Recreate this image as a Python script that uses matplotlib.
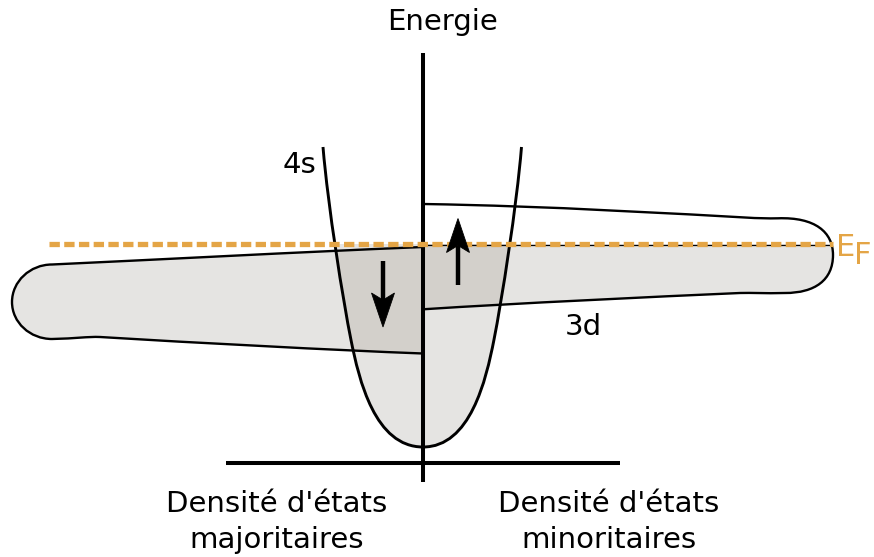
import matplotlib
matplotlib.use('Agg')
import matplotlib.pyplot as plt
from matplotlib.path import Path
from matplotlib.patches import PathPatch, Polygon

# schematic coordinates are in image pixels (x to the right, y downwards)
axisX = 423
axisTop = 53
axisBottom = 482
baseY = 463
baseLeft = 226
baseRight = 620
efLevel = 243.5
efStart = 49
efEnd = 833

# 4s band: half curve from the bottom up, as bezier control points (offset from axis, y)
fourSOffsets = [0, 48, 64, 72, 80, 95, 100]
fourSLevels = [447, 447, 380, 340, 300, 207, 147]
fourSScaleLeft = 1.0
fourSScaleRight = 0.985

# 3d bands: bezier control points (start point, then groups of three)
majorityBandX = [423, 300, 150, 52, 30, 12, 12, 12, 30, 52, 75, 88, 100, 200, 330, 423]
majorityBandY = [247, 252, 260, 264.5, 264.5, 281.5, 302, 322.5, 339, 339, 338.5, 336.5, 337, 343, 350, 353.5]
minorityBandX = [423, 550, 680, 745, 758, 768, 778, 815, 833, 833, 833, 815, 785, 765, 752, 740, 650, 520, 423]
minorityBandY = [204, 206, 214, 217.5, 218.3, 218.5, 218.3, 217, 232, 255, 280, 293, 293, 293.5, 292.7, 293, 297, 303, 309.3]

# spin arrows: x, tail y, tip y
arrowX = [383, 458]
arrowTail = [261, 285]
arrowTip = [327, 218.5]

lightFill = '#e5e4e2'
darkFill = '#d3d0cb'
orange = '#e4a546'


def bandPath(xs, ys):
    verts = list(zip(xs, ys)) + [(xs[0], ys[0])]
    codes = [Path.MOVETO] + [Path.CURVE4] * (len(xs) - 1) + [Path.CLOSEPOLY]
    return Path(verts, codes)


def fourSPath(closed):
    left = [(axisX - o * fourSScaleLeft, y) for o, y in zip(fourSOffsets, fourSLevels)]
    right = [(axisX + o * fourSScaleRight, y) for o, y in zip(fourSOffsets, fourSLevels)]
    verts = left[::-1] + right[1:]
    codes = [Path.MOVETO] + [Path.CURVE4] * (len(verts) - 1)
    if closed:
        verts = verts + [verts[0]]
        codes = codes + [Path.CLOSEPOLY]
    return Path(verts, codes)


def drawArrow(ax, x, tail, tip):
    direction = 1 if tip > tail else -1
    headLength = 34
    headWidth = 23
    notch = 7
    back = tip - direction * headLength
    neck = tip - direction * (headLength - notch)
    ax.plot([x, x], [tail, neck], color='black', lw=3.2, solid_capstyle='butt', zorder=8)
    head = Polygon([(x, tip), (x - headWidth / 2, back), (x, neck), (x + headWidth / 2, back)],
                   closed=True, facecolor='black', edgecolor='black', lw=0.6, zorder=8)
    ax.add_patch(head)


fig = plt.figure(figsize=(8.74, 5.57), dpi=100)
ax = fig.add_axes([0, 0, 1, 1])
ax.set_xlim(0, 874)
ax.set_ylim(557, 0)
ax.axis('off')

majority = bandPath(majorityBandX, majorityBandY)
minority = bandPath(minorityBandX, minorityBandY)
fourSFill = fourSPath(True)

# fills
for band in (majority, minority):
    ax.add_patch(PathPatch(band, facecolor=lightFill, edgecolor='none', zorder=1))
fourSPatch = PathPatch(fourSFill, facecolor=lightFill, edgecolor='none', zorder=2)
ax.add_patch(fourSPatch)
for band in (majority, minority):
    overlap = PathPatch(band, facecolor=darkFill, edgecolor='none', zorder=3)
    ax.add_patch(overlap)
    overlap.set_clip_path(fourSPatch)

# states above the Fermi level stay empty
ax.axhspan(0, efLevel, color='white', lw=0, zorder=4)

# outlines
for band in (majority, minority):
    ax.add_patch(PathPatch(band, facecolor='none', edgecolor='black', lw=1.7, zorder=5))
ax.add_patch(PathPatch(fourSPath(False), facecolor='none', edgecolor='black', lw=2.1, zorder=5))
ax.hlines(efLevel + 1.5, axisX, 831, color='black', lw=0.9, zorder=5)

# axes
ax.plot([axisX, axisX], [axisTop, axisBottom], color='black', lw=2.9, solid_capstyle='butt', zorder=6)
ax.plot([baseLeft, baseRight], [baseY, baseY], color='black', lw=2.9, solid_capstyle='butt', zorder=6)

# Fermi level
ax.plot([efStart, efEnd], [efLevel, efLevel], color=orange, lw=3.8,
        dashes=(1.96, 0.83), dash_capstyle='butt', zorder=7)
ax.text(836, 256, 'E', color=orange, fontsize=22, ha='left', va='baseline', zorder=9)
ax.text(854, 264, 'F', color=orange, fontsize=22, ha='left', va='baseline', zorder=9)

for x, tail, tip in zip(arrowX, arrowTail, arrowTip):
    drawArrow(ax, x, tail, tip)

# labels
ax.text(443, 30, 'Energie', fontsize=21, ha='center', va='baseline', zorder=9)
ax.text(299, 173, '4s', fontsize=21, ha='center', va='baseline', zorder=9)
ax.text(583.5, 335, '3d', fontsize=21, ha='center', va='baseline', zorder=9)
ax.text(277, 511.5, "Densité d'états", fontsize=21, ha='center', va='baseline', zorder=9)
ax.text(277, 548, 'majoritaires', fontsize=21, ha='center', va='baseline', zorder=9)
ax.text(609, 511.5, "Densité d'états", fontsize=21, ha='center', va='baseline', zorder=9)
ax.text(609, 548, 'minoritaires', fontsize=21, ha='center', va='baseline', zorder=9)

fig.savefig('out.png', dpi=100)
